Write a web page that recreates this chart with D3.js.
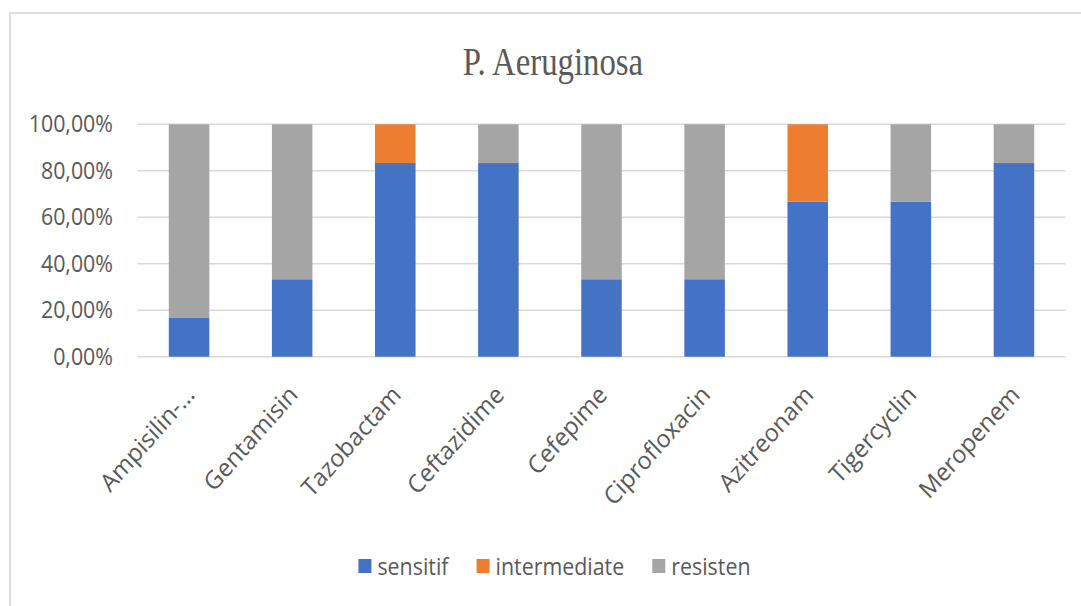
<!DOCTYPE html>
<html><head><meta charset="utf-8">
<script src="https://cdn.jsdelivr.net/npm/d3@7"></script>
<style>body{margin:0;background:#fff;overflow:hidden}</style>
</head><body><svg id="c" width="1081" height="606"></svg>
<script>
const title = "P. Aeruginosa";
const categories = ["Ampisilin-…","Gentamisin","Tazobactam","Ceftazidime","Cefepime","Ciprofloxacin","Azitreonam","Tigercyclin","Meropenem"];
const sensitif     = [0.1667,0.3333,0.8333,0.8333,0.3333,0.3333,0.6667,0.6667,0.8333];
const intermediate = [0,     0,     0.1667,0,     0,     0,     0.3333,0,     0     ];
const resisten     = [0.8333,0.6667,0,     0.1667,0.6667,0.6667,0,     0.3333,0.1667];
const seriesNames  = ["sensitif","intermediate","resisten"];
const seriesColors = ["#4472C4","#ED7D31","#A5A5A5"];
const yTicks = [0,0.2,0.4,0.6,0.8,1];

const svg = d3.select("#c");
const SX = 0.93;
const textColor = "#595959";
const font = "'Open Sans', sans-serif";

// outer frame
svg.append("rect").attr("x",10).attr("y",13).attr("width",1200).attr("height",800)
  .attr("fill","#fff").attr("stroke","#dedede").attr("stroke-width",2);

const table = categories.map((c,i)=>({cat:c, sensitif:sensitif[i], intermediate:intermediate[i], resisten:resisten[i]}));
const stack = d3.stack().keys(seriesNames)(table);

const x = d3.scaleBand().domain(categories).range([137.5,1065.5]).paddingInner(0.607).paddingOuter(0.3035);
const y = d3.scaleLinear().domain([0,1]).range([356.7,124.3]);
const color = d3.scaleOrdinal().domain(seriesNames).range(seriesColors);

// gridlines
svg.append("g").selectAll("line").data(yTicks).join("line")
  .attr("x1",x.range()[0]).attr("x2",x.range()[1])
  .attr("y1",d=>y(d)).attr("y2",d=>y(d))
  .attr("stroke","#d9d9d9").attr("stroke-width",1.5);

// y labels
const fmt = d => (d*100).toFixed(2).replace(".",",") + "%";
svg.append("g").selectAll("text").data(yTicks).join("text")
  .attr("transform",d=>`translate(113,${y(d)+8}) scale(${SX},1)`)
  .attr("text-anchor","end").attr("font-family",font).attr("font-size",23)
  .attr("fill",textColor).text(fmt);

// bars
svg.append("g").selectAll("g").data(stack).join("g")
  .attr("fill",d=>color(d.key))
  .selectAll("rect").data(d=>d).join("rect")
  .attr("x",d=>x(d.data.cat)).attr("width",x.bandwidth())
  .attr("y",d=>y(d[1])).attr("height",d=>y(d[0])-y(d[1]));

// x labels
svg.append("g").selectAll("text").data(categories).join("text")
  .attr("transform",d=>`translate(${x(d)+x.bandwidth()/2+7},${396}) scale(${SX},1) rotate(-46.5)`)
  .attr("text-anchor","end").attr("font-family",font).attr("font-size",25)
  .attr("fill",textColor).text(d=>d);

// title
svg.append("text").attr("transform",`translate(553,75) scale(0.82,1)`)
  .attr("text-anchor","middle").attr("font-family","'Liberation Serif', serif").attr("font-size",40)
  .attr("fill",textColor).text(title);

// legend
const lg = svg.append("g");
const items = lg.selectAll("g").data(seriesNames).join("g");
items.append("rect").attr("width",13).attr("height",14).attr("y",559).attr("fill",d=>color(d));
const lt = items.append("text").attr("font-family",font).attr("font-size",23).attr("fill",textColor).text(d=>d);
const widths = lt.nodes().map(n=>n.getComputedTextLength()*SX);
const sqW = 13, gapT = 6, gapI = 28;
const total = d3.sum(widths) + seriesNames.length*(sqW+gapT) + gapI*(seriesNames.length-1);
let cx = 554.5 - total/2;
items.each(function(d,i){
  const g = d3.select(this);
  g.select("rect").attr("x",cx);
  g.select("text").attr("transform",`translate(${cx+sqW+gapT},575) scale(${SX},1)`);
  cx += sqW+gapT+widths[i]+gapI;
});
</script></body></html>
